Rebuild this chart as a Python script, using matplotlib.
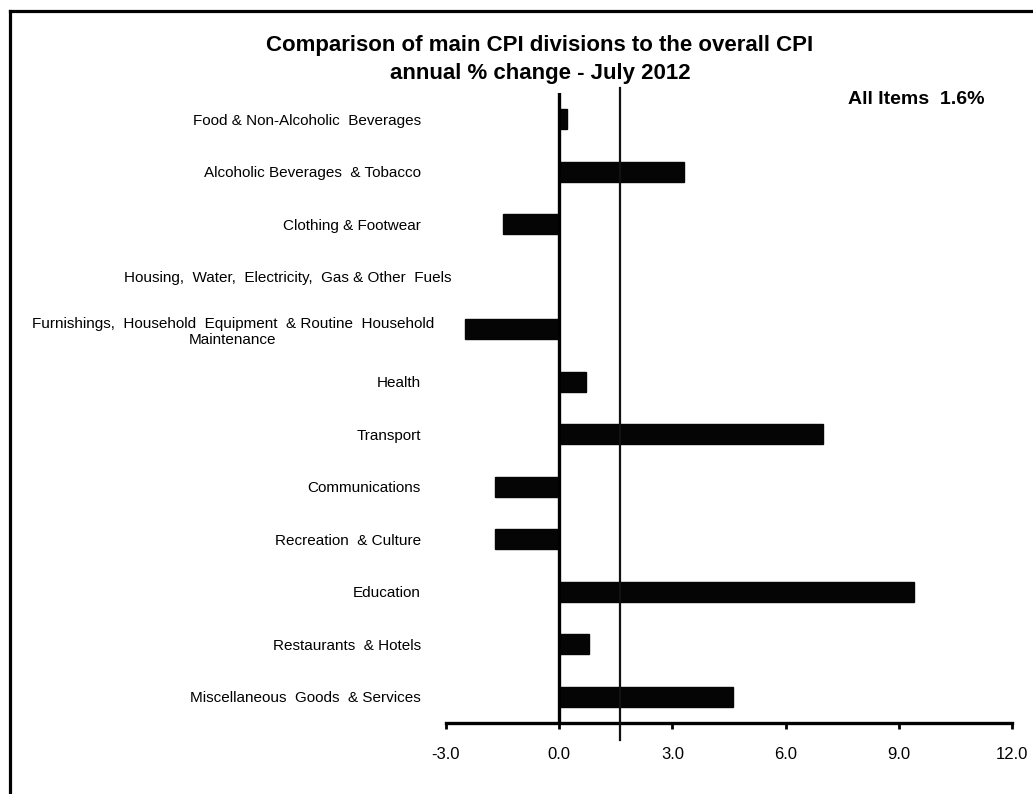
import matplotlib
matplotlib.use("Agg")
import matplotlib.pyplot as plt
from matplotlib.lines import Line2D
from matplotlib.transforms import ScaledTranslation

plt.rcParams['font.family'] = ['Liberation Sans', 'DejaVu Sans']

categories = [
    "Food & Non-Alcoholic  Beverages",
    "Alcoholic Beverages  & Tobacco",
    "Clothing & Footwear",
    "Housing,  Water,  Electricity,  Gas & Other  Fuels",
    "Furnishings,  Household  Equipment  & Routine  Household\nMaintenance",
    "Health",
    "Transport",
    "Communications",
    "Recreation  & Culture",
    "Education",
    "Restaurants  & Hotels",
    "Miscellaneous  Goods  & Services",
]
annual_change = [0.2, 3.3, -1.5, 0.0, -2.5, 0.7, 7.0, -1.7, -1.7, 9.4, 0.8, 4.6]
all_items = 1.6
xticks = [-3.0, 0.0, 3.0, 6.0, 9.0, 12.0]
xtick_labels = ["-3.0", "0.0", "3.0", "6.0", "9.0", "12.0"]

W, H = 1033, 794
fig = plt.figure(figsize=(W / 100, H / 100), dpi=100)
ax = fig.add_axes([446 / W, 1 - 723 / H, (1012 - 446) / W, (723 - 93) / H])

ypos = list(range(len(categories)))
ax.barh(ypos, annual_change, height=0.38, color="#050505", edgecolor="#050505")

ax.set_xlim(-3, 12)
ax.set_ylim(len(categories) - 0.5, -0.5)

# zero (vertical) axis
ax.axvline(0, color="black", lw=2.4, zorder=3)
# All items reference line extending beyond the plot area
ax.plot([all_items, all_items], [len(categories) - 0.5 + 0.33, -0.6],
        color="#111111", lw=1.6, clip_on=False, zorder=3)

for s in ["top", "right", "left"]:
    ax.spines[s].set_visible(False)
ax.spines["bottom"].set_linewidth(2.4)

ax.set_xticks(xticks)
ax.set_xticklabels(xtick_labels, fontsize=12)
ax.tick_params(axis="x", direction="out", length=4, width=2, pad=13)

ax.set_yticks(ypos)
ax.set_yticklabels(categories, fontsize=11, multialignment="center")
ax.tick_params(axis="y", length=0, pad=18)
for lab in ax.get_yticklabels():
    t = lab.get_text()
    if t.startswith("Housing"):
        lab.set_transform(lab.get_transform() + ScaledTranslation(30 / 100, 0, fig.dpi_scale_trans))
    elif t.startswith("Furnishings"):
        lab.set_transform(lab.get_transform() + ScaledTranslation(13 / 100, 0, fig.dpi_scale_trans))

fig.text(540 / W, 1 - 46 / H, "Comparison of main CPI divisions to the overall CPI",
         ha="center", va="center", fontsize=16, fontweight="bold")
fig.text(540 / W, 1 - 73 / H, "annual % change - July 2012",
         ha="center", va="center", fontsize=16, fontweight="bold")
fig.text(985 / W, 1 - 100 / H, "All Items  1.6%", ha="right", va="center",
         fontsize=14, fontweight="bold")

# frame (partially cropped in the original)
fig.add_artist(Line2D([9.5 / W, 9.5 / W], [0, 1 - 11 / H], color="black", lw=2.3,
                      transform=fig.transFigure, solid_capstyle="projecting"))
fig.add_artist(Line2D([9.5 / W, 1], [1 - 11 / H, 1 - 11 / H], color="black", lw=2.3,
                      transform=fig.transFigure, solid_capstyle="projecting"))

fig.savefig("out.png", dpi=100, facecolor="white")
